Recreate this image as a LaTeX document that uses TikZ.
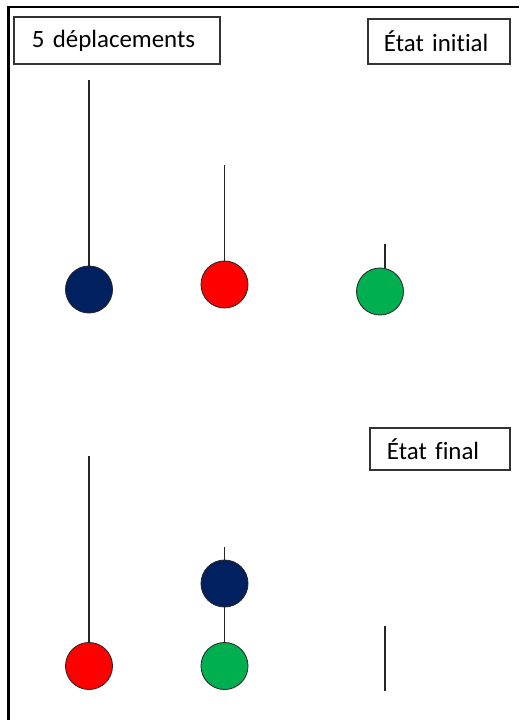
\documentclass[tikz,border=0pt]{standalone}
\usepackage{fontspec}
\setmainfont{Carlito}[Ligatures=NoCommon]
\definecolor{bleunuit}{HTML}{002060}
\definecolor{rouge}{HTML}{FF0000}
\definecolor{vert}{HTML}{00B050}
\tikzstyle{etiquette}=[rectangle,draw=black!80,line width=0.8pt,align=left,font=\fontsize{17.7}{21}\selectfont]
\tikzstyle{boule}=[circle,draw=black!85,line width=0.6pt,minimum size=1.175cm,inner sep=0pt]
\tikzstyle{tige}=[black!85,line width=0.9pt]

\begin{document}
\begin{tikzpicture}[x=0.025cm,y=-0.025cm]
	\useasboundingbox (0,0) rectangle (519,720);
	\draw[line width=1.5pt] (519,7) -- (8.5,7) -- (8.5,720);

	\node[etiquette,minimum height=1.175cm,inner xsep=0.45cm,text width=4.25cm] (depl) at (117,40.5) {5 déplacements};
	\node[etiquette,minimum height=1.125cm,inner xsep=0.4cm,text width=2.75cm] (initial) at (439,41.5) {État initial};
	\node[etiquette,minimum height=1.05cm,inner xsep=0.425cm,text width=2.65cm] (final) at (440,449) {État final};

	\coordinate (hautA) at (89,80);
	\coordinate (hautB) at (224.5,165);
	\coordinate (hautC) at (385,244);
	\coordinate (hautD) at (89,456);
	\coordinate (hautE) at (224.5,547);
	\coordinate (hautF) at (385,626);
	\coordinate (basF) at (385,691);

	\node[boule,fill=bleunuit] (bleuI) at (89,289.5) {};
	\node[boule,fill=rouge] (rougeI) at (224.5,284.5) {};
	\node[boule,fill=vert] (vertI) at (380,291.5) {};

	\node[boule,fill=rouge] (rougeF) at (89,666) {};
	\node[boule,fill=bleunuit] (bleuF) at (224.5,583.5) {};
	\node[boule,fill=vert] (vertF) at (224.5,666) {};

	\draw[tige]
		(hautA) -- (bleuI.north)
		(hautB) -- (rougeI.north)
		(hautC) -- (hautC |- vertI.north)
		(hautD) -- (rougeF.north)
		(hautE) -- (bleuF.north)
		(bleuF.south) -- (vertF.north)
		(hautF) -- (basF)
	;
\end{tikzpicture}
\end{document}
